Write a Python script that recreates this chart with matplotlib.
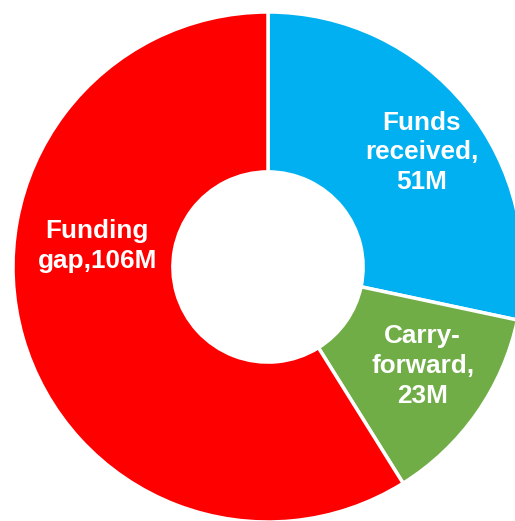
import matplotlib
matplotlib.use("Agg")
import matplotlib.pyplot as plt
import numpy as np

labels = ["Funds\nreceived,\n51M", "Carry-\nforward,\n23M", "Funding\ngap,106M"]
values = [51, 23, 106]
colors = ["#00B0F0", "#70AD47", "#FF0000"]
label_angles = [36.7, -32.6, 173.0]
label_radii = [0.753, 0.72, 0.675]

plt.rcParams['font.family'] = ['Liberation Sans', 'DejaVu Sans']

W, H = 515, 521
fig = plt.figure(figsize=(W / 100, H / 100), dpi=100)
cx, cy, R = 268, 267, 255
ax = fig.add_axes([(cx - R) / W, (H - cy - R) / H, 2 * R / W, 2 * R / H])

wedges, _ = ax.pie(values, colors=colors, startangle=90, counterclock=False,
                   radius=1.0,
                   wedgeprops=dict(width=1 - 0.373, edgecolor='white', linewidth=2.5))
for w in wedges:
    w.set_clip_on(False)
ax.set_xlim(-1, 1)
ax.set_ylim(-1, 1)
ax.set_aspect('equal')
ax.axis('off')

for lab, a, r in zip(labels, label_angles, label_radii):
    t = np.deg2rad(a)
    ax.text(r * np.cos(t), r * np.sin(t), lab, ha='center', va='center',
            color='white', fontsize=18.8, fontweight='bold', linespacing=1.3)

fig.savefig("out.png", dpi=100)
